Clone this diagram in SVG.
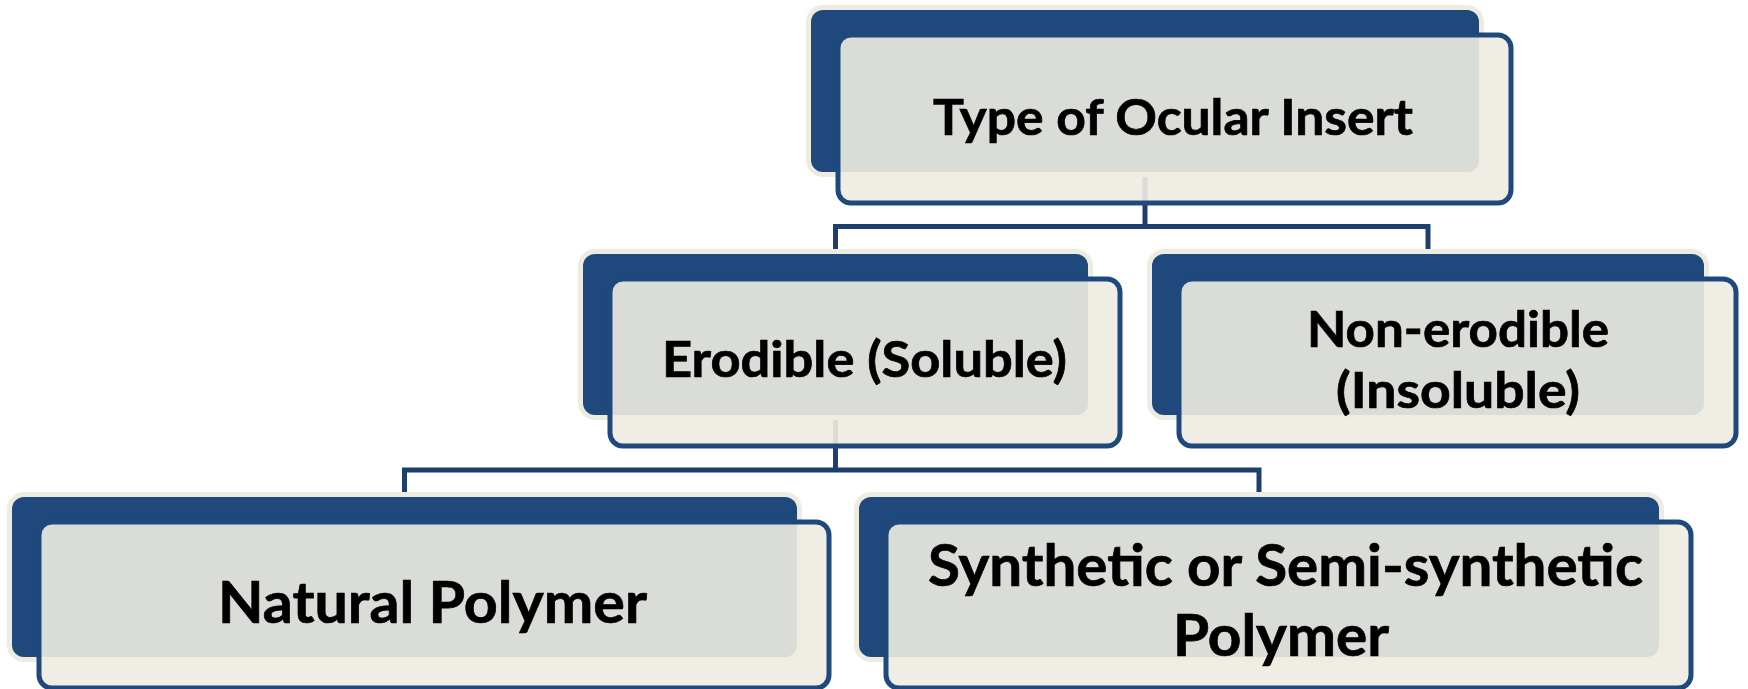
<svg xmlns="http://www.w3.org/2000/svg" width="1748" height="689" viewBox="0 0 1748 689">
<style>
.back{fill:#1F497D;stroke:#EEECE1;stroke-width:10;paint-order:stroke}
.front{fill:#EEECE1;fill-opacity:0.9;stroke:#1F497D;stroke-width:5}
.conn{fill:none;stroke:#1E3F6D;stroke-width:5}
.t{font-family:Lato,"Open Sans","Liberation Sans",sans-serif;font-weight:700;fill:#000;stroke:#000;stroke-width:0.7}
.s1{font-size:50px}
.s2{font-size:57px}
.s3{font-size:57px}
</style>
<rect width="1748" height="689" fill="#FFFFFF"/>
<g id="connectors">
<path class="conn" d="M1145,177 V226.5 M835.5,249 V226.5 H1428 V249"/>
<path class="conn" d="M835.5,420 V470 M404.5,492 V470 H1259 V492"/>
</g>
<g id="node-type">
<rect class="back" x="811" y="10" width="668" height="162" rx="12"/>
<rect class="front" x="838" y="35" width="673" height="168" rx="13"/>
<text class="t s1" x="933" y="135" textLength="480" lengthAdjust="spacingAndGlyphs">Type of Ocular Insert</text>
</g>
<g id="node-erodible">
<rect class="back" x="583" y="254" width="505" height="161" rx="12"/>
<rect class="front" x="610" y="279" width="510" height="167" rx="13"/>
<text class="t s1" x="662" y="377" textLength="405" lengthAdjust="spacingAndGlyphs">Erodible (Soluble)</text>
</g>
<g id="node-nonerodible">
<rect class="back" x="1152" y="254" width="552" height="161" rx="12"/>
<rect class="front" x="1179" y="279" width="557" height="167" rx="13"/>
<text class="t s1" x="1307" y="347" textLength="302" lengthAdjust="spacingAndGlyphs">Non-erodible</text>
<text class="t s1" x="1336" y="408" textLength="244" lengthAdjust="spacingAndGlyphs">(Insoluble)</text>
</g>
<g id="node-natural">
<rect class="back" x="12" y="497" width="785" height="160" rx="12"/>
<rect class="front" x="39" y="522" width="790" height="166" rx="13"/>
<text class="t s2" x="218" y="623" textLength="429" lengthAdjust="spacingAndGlyphs">Natural Polymer</text>
</g>
<g id="node-synthetic">
<rect class="back" x="859" y="497" width="800" height="160" rx="12"/>
<rect class="front" x="886" y="522" width="805" height="166" rx="13"/>
<text class="t s3" x="928" y="586" textLength="715" lengthAdjust="spacingAndGlyphs">Synthetic or Semi-synthetic</text>
<text class="t s3" x="1173" y="656" textLength="216" lengthAdjust="spacingAndGlyphs">Polymer</text>
</g>
</svg>
